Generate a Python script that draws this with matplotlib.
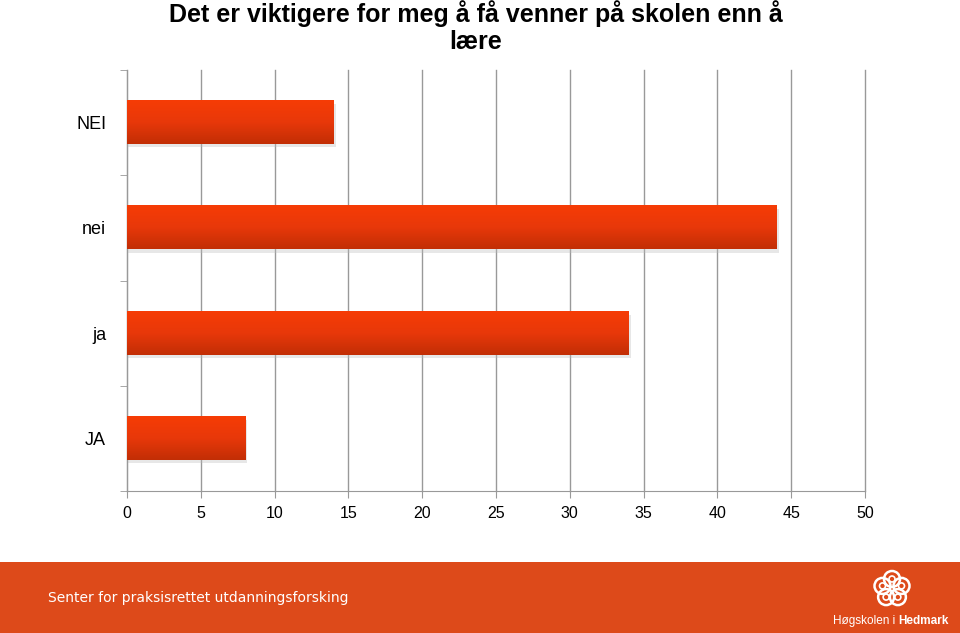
import matplotlib
matplotlib.use("Agg")
import matplotlib.pyplot as plt
import numpy as np
from matplotlib.patches import Rectangle, Circle
from matplotlib.colors import LinearSegmentedColormap

categories = ["NEI", "nei", "ja", "JA"]
values = [14, 44, 34, 8]
xticks = [0, 5, 10, 15, 20, 25, 30, 35, 40, 45, 50]
title = "Det er viktigere for meg å få venner på skolen enn å\nlære"
footer_text = "Senter for praksisrettet utdanningsforsking"
logo_text_regular = "Høgskolen i "
logo_text_bold = "Hedmark"

plt.rcParams['font.family'] = ['Liberation Sans', 'DejaVu Sans']

fig = plt.figure(figsize=(9.6, 6.33), dpi=100)
ax = fig.add_axes([127/960, 1-491/633, (865-127)/960, (491-70)/633])

n = len(categories)
ypos = np.arange(n)[::-1]  # NEI at top
h = 0.41
grad = np.linspace(0, 1, 100).reshape(-1, 1)
cmap = LinearSegmentedColormap.from_list("g", ["#F63C05", "#E8380A", "#C22E05"])
for y, v in zip(ypos, values):
    ax.add_patch(Rectangle((0.05, y - h/2 - 0.03), v + 0.1, h, facecolor="#bbbbbb", alpha=0.35,
                           edgecolor="none", zorder=2))
    ax.imshow(grad, extent=[0, v, y - h/2, y + h/2], aspect="auto", cmap=cmap,
              origin="upper", zorder=3, interpolation="bicubic")

ax.set_xlim(0, 50)
ax.set_ylim(-0.5, n - 0.5)
ax.set_xticks(xticks)
ax.set_xticklabels([str(t) for t in xticks], fontsize=11.5)
ax.set_yticks(ypos)
ax.set_yticklabels(categories, fontsize=13)
ax.set_yticks(np.arange(-0.5, n, 1), minor=True)
ax.tick_params(axis="y", which="major", length=0, pad=15)
ax.tick_params(axis="y", which="minor", length=5, color="#999999")
ax.tick_params(axis="x", length=5, color="#999999", pad=6)
ax.grid(axis="x", color="#999999", linewidth=1, zorder=0)
for gl in ax.get_xgridlines():
    gl.set_clip_on(False)
ax.set_axisbelow(True)
for s in ["top", "right"]:
    ax.spines[s].set_visible(False)
for s in ["left", "bottom"]:
    ax.spines[s].set_color("#999999")

fig.text(476/960, 1.0, title, ha="center", va="top", fontsize=18,
         fontweight="bold", linespacing=1.15)

# footer band
fig.patches.append(Rectangle((0, 0), 1, (633-562)/633, transform=fig.transFigure,
                             facecolor="#DD4A1A", edgecolor="none", zorder=0))
fig.text(48/960, 1-598/633, footer_text, color="white", fontsize=10,
         family=["DejaVu Sans"], va="center", ha="left")
# logo
lax = fig.add_axes([872/960, 1-609/633, 40/960, 40/633], zorder=5)
lax.set_xlim(-1, 1); lax.set_ylim(-1, 1); lax.set_aspect("equal"); lax.axis("off")
for k in range(5):
    a = np.pi/2 + k*2*np.pi/5
    lax.add_patch(Circle((0.5*np.cos(a), 0.5*np.sin(a)), 0.4, fill=False, edgecolor="white", lw=1.8))
    lax.add_patch(Circle((0.5*np.cos(a), 0.5*np.sin(a)), 0.15, fill=False, edgecolor="white", lw=1.2))
t1 = fig.text(833/960, 1-621/633, logo_text_regular, color="white", fontsize=8.5, va="center", ha="left")
fig.canvas.draw()
bb = t1.get_window_extent()
fig.text(bb.x1/960, 1-621/633, logo_text_bold, color="white", fontsize=8.5, fontweight="bold",
         va="center", ha="left")

fig.savefig("out.png", dpi=100)
